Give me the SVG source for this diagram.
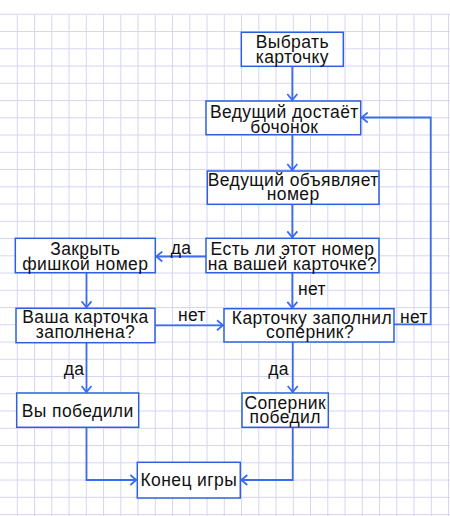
<svg xmlns="http://www.w3.org/2000/svg" width="450" height="516" viewBox="0 0 450 516">
<defs>
<style>
.grid{stroke:#d6d6f2;stroke-width:1;fill:none}
.box{fill:#ffffff;stroke:#2d5fe0;stroke-width:1.5}
.t{font-family:"Liberation Sans",Arial,sans-serif;font-size:17.5px;letter-spacing:0.4px;fill:#111111;text-anchor:middle}
.c{fill:none;stroke:#3a6cf0;stroke-width:1.8}
</style>
<marker id="ah" viewBox="-8 -6 10 12" markerWidth="10" markerHeight="12" refX="0" refY="0" orient="auto" markerUnits="userSpaceOnUse">
<path d="M-6,-5 L0,0 L-6,5" fill="none" stroke="#3a6cf0" stroke-width="1.8"/>
</marker>
</defs>
<rect width="450" height="516" fill="#ffffff"/>
<g id="grid" class="grid">
<path d="M0,14.3H450M0,31.55H450M0,48.8H450M0,66.05H450M0,83.3H450M0,100.55H450M0,117.8H450M0,135.05H450M0,152.3H450M0,169.55H450M0,186.8H450M0,204.05H450M0,221.3H450M0,238.55H450M0,255.8H450M0,273.05H450M0,290.3H450M0,307.55H450M0,324.8H450M0,342.05H450M0,359.3H450M0,376.55H450M0,393.8H450M0,411.05H450M0,428.3H450M0,445.55H450M0,462.8H450M0,480.05H450M0,497.3H450M0,514.55H450"/>
<path d="M17.3,14.3V516M34.55,14.3V516M51.8,14.3V516M69.05,14.3V516M86.3,14.3V516M103.55,14.3V516M120.8,14.3V516M138.05,14.3V516M155.3,14.3V516M172.55,14.3V516M189.8,14.3V516M207.05,14.3V516M224.3,14.3V516M241.55,14.3V516M258.8,14.3V516M276.05,14.3V516M293.3,14.3V516M310.55,14.3V516M327.8,14.3V516M345.05,14.3V516M362.3,14.3V516M379.55,14.3V516M396.8,14.3V516M414.05,14.3V516M431.3,14.3V516M448.55,14.3V516"/>
</g>
<g id="connectors">
<path class="c" d="M292.3,66.3V100" marker-end="url(#ah)"/>
<path class="c" d="M292.3,134.7V170" marker-end="url(#ah)"/>
<path class="c" d="M292.3,204.3V237.3" marker-end="url(#ah)"/>
<path class="c" d="M206,256.5H156.3" marker-end="url(#ah)"/>
<path class="c" d="M86.5,272.7V307.3" marker-end="url(#ah)"/>
<path class="c" d="M292.3,272.7V307.8" marker-end="url(#ah)"/>
<path class="c" d="M155,325.3H223" marker-end="url(#ah)"/>
<path class="c" d="M394,324.3H430.7V117.5H361.7" marker-end="url(#ah)"/>
<path class="c" d="M86.5,342.7V392" marker-end="url(#ah)"/>
<path class="c" d="M292.7,342V392" marker-end="url(#ah)"/>
<path class="c" d="M86.5,427.3V480H136.3" marker-end="url(#ah)"/>
<path class="c" d="M292.7,427.3V480H241.3" marker-end="url(#ah)"/>
<text class="t" x="181" y="254">да</text>
<text class="t" x="312" y="295">нет</text>
<text class="t" x="192" y="320.5">нет</text>
<text class="t" x="414" y="323.3">нет</text>
<text class="t" x="74" y="375">да</text>
<text class="t" x="278.5" y="375">да</text>
</g>
<g id="n1"><rect class="box" x="241.3" y="32.3" width="102" height="34"/><text class="t" x="292.3" y="48">Выбрать</text><text class="t" x="292.3" y="62.5">карточку</text></g>
<g id="n2"><rect class="box" x="206" y="101" width="154.7" height="33.7"/><text class="t" x="284.3" y="117.8">Ведущий достаёт</text><text class="t" x="284.3" y="132.6">бочонок</text></g>
<g id="n3"><rect class="box" x="207.3" y="171" width="171.7" height="33.3"/><text class="t" x="293.2" y="185.8">Ведущий объявляет</text><text class="t" x="293.2" y="200.3">номер</text></g>
<g id="n4"><rect class="box" x="206" y="238.3" width="173" height="34.4"/><text class="t" x="292.5" y="255">Есть ли этот номер</text><text class="t" x="292.5" y="270.3">на вашей карточке?</text></g>
<g id="n5"><rect class="box" x="15.3" y="238.3" width="140" height="34.4"/><text class="t" x="85.3" y="254.5">Закрыть</text><text class="t" x="85.3" y="269.6">фишкой номер</text></g>
<g id="n6"><rect class="box" x="16" y="308.3" width="139" height="34.4"/><text class="t" x="85.5" y="323">Ваша карточка</text><text class="t" x="85.5" y="338.4">заполнена?</text></g>
<g id="n7"><rect class="box" x="224" y="308.7" width="170" height="33.3"/><text class="t" x="312" y="323.8">Карточку заполнил</text><text class="t" x="310" y="338">соперник?</text></g>
<g id="n8"><rect class="box" x="16.7" y="393" width="122" height="34.3"/><text class="t" x="77.7" y="417">Вы победили</text></g>
<g id="n9"><rect class="box" x="242" y="393" width="86.3" height="34.3"/><text class="t" x="285.2" y="408.5">Соперник</text><text class="t" x="285.2" y="423">победил</text></g>
<g id="n10"><rect class="box" x="137.3" y="462.3" width="103" height="35.7"/><text class="t" x="188.8" y="485.7">Конец игры</text></g>
</svg>
